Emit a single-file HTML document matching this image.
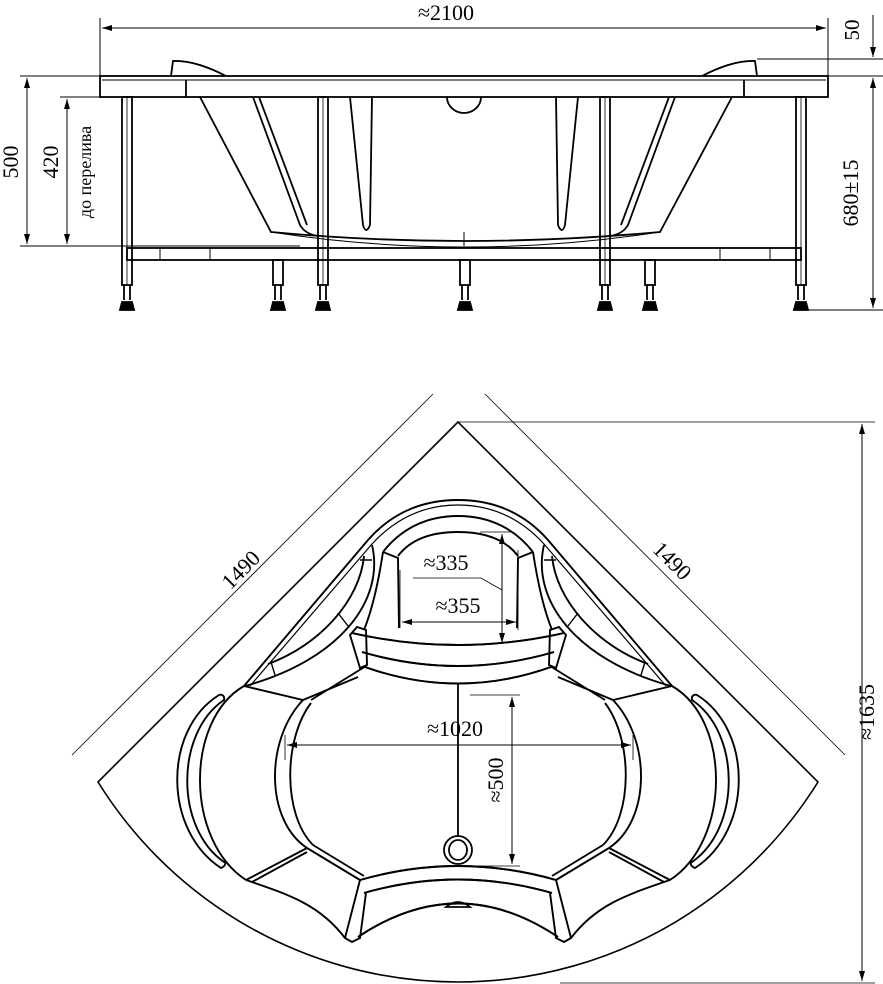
<!DOCTYPE html>
<html><head><meta charset="utf-8"><style>
html,body{margin:0;padding:0;background:#fff;}
svg{display:block}
text{font-family:"Liberation Serif",serif;fill:#000}
</style></head><body>
<svg width="883" height="984" viewBox="0 0 883 984" xmlns="http://www.w3.org/2000/svg">
<defs>
<marker id="a" viewBox="0 0 10 6" refX="10" refY="3" markerWidth="10" markerHeight="6" orient="auto-start-reverse" markerUnits="userSpaceOnUse"><path d="M0,0 L10,3 L0,6 Z" fill="#000"/></marker>
</defs>
<g fill="none" stroke="#000" stroke-width="1">
<line x1="100" y1="18" x2="100" y2="76"/>
<line x1="828" y1="18" x2="828" y2="76"/>
<line x1="102" y1="28" x2="826" y2="28" marker-start="url(#a)" marker-end="url(#a)"/>
<line x1="20" y1="76" x2="100" y2="76"/>
<line x1="60" y1="97" x2="100" y2="97"/>
<line x1="20" y1="246" x2="300" y2="246"/>
<line x1="27" y1="78" x2="27" y2="244" marker-start="url(#a)" marker-end="url(#a)"/>
<line x1="67" y1="99" x2="67" y2="244" marker-start="url(#a)" marker-end="url(#a)"/>
<line x1="757" y1="59" x2="883" y2="59"/>
<line x1="828" y1="76" x2="883" y2="76"/>
<line x1="805" y1="310" x2="883" y2="310"/>
<line x1="873" y1="15" x2="873" y2="57" marker-end="url(#a)"/>
<line x1="873" y1="78" x2="873" y2="308" marker-start="url(#a)" marker-end="url(#a)"/>
<g stroke-width="1.8">
<rect x="100" y="76" width="728" height="21"/>
<line x1="102" y1="80" x2="826" y2="80" stroke-width="1"/>
<line x1="186" y1="80" x2="186" y2="97"/>
<line x1="744" y1="80" x2="744" y2="97"/>
<path d="M171,76 L173,61 Q195,60 226,76"/>
<path d="M757,76 L755,61 Q733,60 702,76"/>
<path d="M200,97 L271,232 Q464,250 660,232 L732,97"/>
<path d="M253,97 L300,225 Q305,234 318,236"/>
<path d="M259,97 L307,225"/>
<path d="M675,97 L628,225 Q623,234 610,236"/>
<path d="M669,97 L621,225"/>
<path d="M350,97 L363,225 Q366,235 370,225 L372,97"/>
<path d="M578,97 L565,225 Q562,235 558,225 L556,97"/>
<path d="M447,97 A17,16 0 0 0 481,97"/>
<path d="M271,232 Q464,262 660,232" stroke-width="1"/>
<line x1="464" y1="232" x2="464" y2="246" stroke-width="1"/>
<rect x="127" y="248" width="674" height="12"/>
<line x1="160" y1="248" x2="160" y2="260" stroke-width="1"/>
<line x1="210" y1="248" x2="210" y2="260" stroke-width="1"/>
<line x1="720" y1="248" x2="720" y2="260" stroke-width="1"/>
<line x1="770" y1="248" x2="770" y2="260" stroke-width="1"/>
<g id="leg">
<rect x="122" y="97" width="10" height="188"/>
<line x1="127" y1="97" x2="127" y2="285" stroke-width="0.8"/>
<path d="M124,285 L124,300 M130,285 L130,300"/>
<path d="M120,310 L122,302 L132,302 L134,310 Z" fill="#000"/>
</g>
<use href="#leg" x="196"/>
<use href="#leg" x="478"/>
<use href="#leg" x="674"/>
<g id="sleg">
<rect x="273" y="260" width="10" height="25"/>
<path d="M275,285 L275,300 M281,285 L281,300"/>
<path d="M271,310 L273,302 L283,302 L285,310 Z" fill="#000"/>
</g>
<use href="#sleg" x="187"/>
<use href="#sleg" x="372"/>
</g>

<path d="M458,422 L98,782 A424,424 0 0 0 818,782 Z" stroke-width="1.6"/>
<line x1="72" y1="755" x2="433" y2="394" stroke-width="0.8"/>
<line x1="485" y1="394" x2="845" y2="755" stroke-width="0.8"/>
<line x1="875" y1="422" x2="458" y2="422" stroke-width="0.8"/>
<line x1="875" y1="983" x2="560" y2="983" stroke-width="0.8"/>
<line x1="862" y1="424" x2="862" y2="981" marker-start="url(#a)" marker-end="url(#a)"/>
<g stroke-width="1.9" id="half">
<path d="M244,686 L368,540 C390,515 420,500 458,500"/>
<path d="M250,686 L372,544 C394,520 422,505 458,505" stroke-width="1.2"/>
<path d="M383,552 C400,530 425,516 458,516"/>
<path d="M398,556 C410,540 430,532 458,532"/>
<path d="M383,552 L398,558 L399,628"/>
<path d="M383,552 C378,585 372,610 364,630"/>
<path d="M352,633 Q458,657 564,633"/>
<path d="M362,652 Q458,680 554,652"/>
<path d="M365,667 Q458,700 551,667"/>
<path d="M350,635 L357,627 L366,630 L367,665 L360,668 Z"/>
<path d="M372,545 C385,600 340,660 245,686"/>
<path d="M364,556 C360,600 320,645 268,664"/>
<path d="M360,560 L372,560 M338,613 L348,626 M271,662 L275,675" stroke-width="1.4"/>
<path d="M366,666 L311,700 M358,677 L303,700 L244,686"/>
<path d="M303,700 C265,740 265,820 307,848"/>
<path d="M311,703 C283,740 283,815 313,845"/>
<path d="M307,848 L246,880 M307,852 L252,882"/>
<path d="M219,695 C163,730 163,830 221,868 C226,866 226,862 224,862 C175,828 175,733 224,700 C225,696 222,694 219,695 Z"/>
<path d="M244,686 C185,720 185,840 246,880"/>
<path d="M307,848 L360,880 M313,845 L364,876"/>
<path d="M360,880 Q458,852 556,880"/>
<path d="M364,893 Q458,866 552,893"/>
<path d="M358,937 Q458,870 558,937"/>
<path d="M360,880 L345,938 L352,942 L360,938 L366,893"/>
<path d="M246,880 C290,895 320,905 345,938"/>
</g>
<use href="#half" transform="translate(916,0) scale(-1,1)"/>
<line x1="458" y1="683" x2="458" y2="836" stroke-width="1.8"/>
<circle cx="458" cy="850" r="14" stroke-width="1.8"/>
<ellipse cx="458" cy="850" rx="9" ry="10" stroke-width="1.8"/>
<path d="M446,907 Q458,897 470,907 Z" stroke-width="1.8"/>
<line x1="400" y1="570" x2="400" y2="628" stroke-width="0.8"/>
<line x1="518" y1="550" x2="518" y2="630" stroke-width="0.8"/>
<line x1="402" y1="622" x2="516" y2="622" marker-start="url(#a)" marker-end="url(#a)"/>
<line x1="480" y1="532" x2="510" y2="532" stroke-width="0.8"/>
<line x1="502" y1="534" x2="502" y2="643" marker-start="url(#a)" marker-end="url(#a)"/>
<path d="M413,578 L481,578 L502,590" stroke-width="0.8"/>
<line x1="287" y1="745" x2="631" y2="745" marker-start="url(#a)" marker-end="url(#a)"/>
<line x1="285" y1="735" x2="285" y2="760" stroke-width="0.8"/>
<line x1="633" y1="735" x2="633" y2="760" stroke-width="0.8"/>
<line x1="470" y1="695" x2="520" y2="695" stroke-width="0.8"/>
<line x1="470" y1="866" x2="520" y2="866" stroke-width="0.8"/>
<line x1="512" y1="697" x2="512" y2="864" marker-start="url(#a)" marker-end="url(#a)"/>
</g>
<text x="446" y="20" font-size="22" text-anchor="middle">≈2100</text>
<text transform="translate(18,162) rotate(-90)" font-size="22" text-anchor="middle">500</text>
<text transform="translate(58,162) rotate(-90)" font-size="22" text-anchor="middle">420</text>
<text transform="translate(91,172) rotate(-90)" font-size="18" text-anchor="middle">до перелива</text>
<text transform="translate(859,30) rotate(-90)" font-size="21" text-anchor="middle">50</text>
<text transform="translate(858,193) rotate(-90)" font-size="22" text-anchor="middle">680±15</text>
<text transform="translate(246,575) rotate(-45)" font-size="22" text-anchor="middle">1490</text>
<text transform="translate(667,566) rotate(45)" font-size="22" text-anchor="middle">1490</text>
<text transform="translate(874,712) rotate(-90)" font-size="22" text-anchor="middle">≈1635</text>
<text x="446" y="570" font-size="22" text-anchor="middle">≈335</text>
<text x="458" y="613" font-size="22" text-anchor="middle">≈355</text>
<text x="455" y="736" font-size="22" text-anchor="middle">≈1020</text>
<text transform="translate(503,780) rotate(-90)" font-size="22" text-anchor="middle">≈500</text>
</svg>
</body></html>
